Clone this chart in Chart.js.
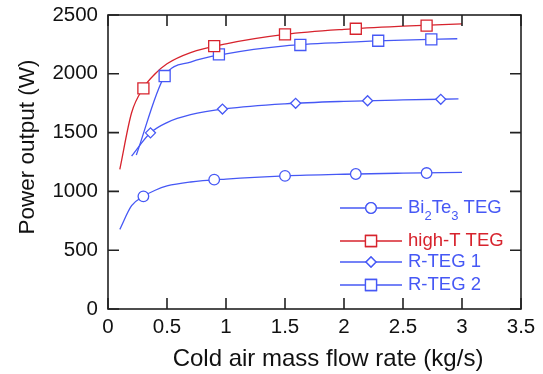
<!DOCTYPE html>
<html>
<head>
<meta charset="utf-8">
<script src="https://cdn.jsdelivr.net/npm/chart.js@4.4.1/dist/chart.umd.min.js"></script>
<style>
  body { margin: 0; background: #fff; }
  #wrap { width: 543px; height: 374px; }
</style>
</head>
<body>
<div id="wrap"><canvas id="grafico" width="543" height="374"></canvas></div>
<script>
// axis ticks
const xTicks = [0, 0.5, 1, 1.5, 2, 2.5, 3, 3.5];
const yTicks = [0, 500, 1000, 1500, 2000, 2500];

// Bi2Te3 TEG
const bteLinhaX = [0.1, 0.2, 0.3, 0.4, 0.5, 0.7, 1.0, 1.5, 2.0, 2.5, 3.0];
const bteLinhaY = [677, 878, 958, 1010, 1046, 1080, 1105, 1132, 1146, 1155, 1162];
const bteMarcaX = [0.3, 0.9, 1.5, 2.1, 2.7];
const bteMarcaY = [958, 1100, 1132, 1148, 1156];

// high-T TEG
const altaLinhaX = [0.1, 0.2, 0.3, 0.4, 0.5, 0.7, 1.0, 1.5, 2.0, 2.5, 3.0];
const altaLinhaY = [1188, 1669, 1880, 2000, 2085, 2180, 2255, 2335, 2378, 2405, 2425];
const altaMarcaX = [0.3, 0.9, 1.5, 2.1, 2.7];
const altaMarcaY = [1876, 2236, 2335, 2383, 2409];

// R-TEG 1
const r1LinhaX = [0.2, 0.36, 0.5, 0.7, 1.0, 1.5, 2.0, 2.5, 2.97];
const r1LinhaY = [1301, 1498, 1585, 1652, 1703, 1745, 1766, 1778, 1786];
const r1MarcaX = [0.36, 0.97, 1.59, 2.2, 2.82];
const r1MarcaY = [1498, 1700, 1749, 1771, 1783];

// R-TEG 2
const r2LinhaX = [0.24, 0.48, 0.7, 1.0, 1.5, 2.0, 2.5, 2.96];
const r2LinhaY = [1310, 1981, 2100, 2170, 2238, 2268, 2287, 2298];
const r2MarcaX = [0.48, 0.94, 1.63, 2.29, 2.74];
const r2MarcaY = [1981, 2165, 2245, 2281, 2293];

const AZUL = "rgb(70,88,245)";
const VERMELHO = "rgb(215,35,45)";
const FONTE = "'Liberation Sans', Arial, sans-serif";

function pontos(xs, ys) {
  return xs.map((x, i) => ({ x, y: ys[i] }));
}

function linha(xs, ys, cor) {
  return {
    data: pontos(xs, ys),
    borderColor: cor,
    borderWidth: 1.3,
    pointRadius: 0,
    cubicInterpolationMode: "monotone",
    showLine: true,
    fill: false
  };
}

function marcas(xs, ys, cor, estilo, raio) {
  return {
    data: pontos(xs, ys),
    borderColor: cor,
    backgroundColor: "#fff",
    borderWidth: 1.3,
    pointStyle: estilo,
    pointRadius: raio,
    showLine: false
  };
}

const legenda = [
  { texto: ["Bi", "2", "Te", "3", " TEG"], cor: AZUL, estilo: "circle", raio: 5.3, y: 208 },
  { texto: ["high-T TEG"], cor: VERMELHO, estilo: "rect", raio: 7.8, y: 241 },
  { texto: ["R-TEG 1"], cor: AZUL, estilo: "rectRot", raio: 5, y: 262 },
  { texto: ["R-TEG 2"], cor: AZUL, estilo: "rect", raio: 7.8, y: 285 }
];

const molduraPlugin = {
  id: "moldura",
  afterDraw(chart) {
    const ctx = chart.ctx;
    const a = chart.chartArea;
    const sx = chart.scales.x;
    const sy = chart.scales.y;
    const tam = 11;

    ctx.save();
    ctx.strokeStyle = "#222";
    ctx.lineWidth = 1.6;
    ctx.strokeRect(a.left, a.top, a.right - a.left, a.bottom - a.top);

    ctx.beginPath();
    xTicks.forEach(v => {
      const px = sx.getPixelForValue(v);
      ctx.moveTo(px, a.bottom);
      ctx.lineTo(px, a.bottom - tam);
      ctx.moveTo(px, a.top);
      ctx.lineTo(px, a.top + tam);
    });
    yTicks.forEach(v => {
      const py = sy.getPixelForValue(v);
      ctx.moveTo(a.left, py);
      ctx.lineTo(a.left + tam, py);
      ctx.moveTo(a.right, py);
      ctx.lineTo(a.right - tam, py);
    });
    ctx.stroke();

    // axis titles
    ctx.fillStyle = "#111";
    ctx.textAlign = "center";
    ctx.textBaseline = "middle";
    ctx.font = "24px " + FONTE;
    ctx.fillText("Cold air mass flow rate (kg/s)", 328, 359);

    ctx.save();
    ctx.translate(28, 147);
    ctx.rotate(-Math.PI / 2);
    ctx.font = "22.5px " + FONTE;
    ctx.fillText("Power output (W)", 0, 0);
    ctx.restore();

    // legend
    legenda.forEach(item => {
      ctx.strokeStyle = item.cor;
      ctx.lineWidth = 1.3;
      ctx.beginPath();
      ctx.moveTo(340, item.y);
      ctx.lineTo(402, item.y);
      ctx.stroke();

      ctx.fillStyle = "#fff";
      Chart.helpers.drawPoint(ctx, {
        pointStyle: item.estilo,
        radius: item.raio,
        borderWidth: 1.3
      }, 371, item.y);
      ctx.fill();
      ctx.stroke();

      ctx.fillStyle = item.cor;
      ctx.textAlign = "left";
      ctx.textBaseline = "middle";
      let x = 408;
      item.texto.forEach((parte, i) => {
        const sub = item.texto.length > 1 && i % 2 === 1 && i < 4;
        ctx.font = (sub ? "13px " : "18.5px ") + FONTE;
        ctx.fillText(parte, x, item.y + (sub ? 8 : 0));
        x += ctx.measureText(parte).width;
      });
    });
    ctx.restore();
  }
};

new Chart(document.getElementById("grafico"), {
  type: "scatter",
  data: {
    datasets: [
      marcas(bteMarcaX, bteMarcaY, AZUL, "circle", 5.3),
      marcas(altaMarcaX, altaMarcaY, VERMELHO, "rect", 7.8),
      marcas(r1MarcaX, r1MarcaY, AZUL, "rectRot", 5),
      marcas(r2MarcaX, r2MarcaY, AZUL, "rect", 7.8),
      linha(bteLinhaX, bteLinhaY, AZUL),
      linha(altaLinhaX, altaLinhaY, VERMELHO),
      linha(r1LinhaX, r1LinhaY, AZUL),
      linha(r2LinhaX, r2LinhaY, AZUL)
    ]
  },
  options: {
    responsive: false,
    animation: false,
    layout: { padding: { left: 0, top: 15, right: 22, bottom: 0 } },
    plugins: {
      legend: { display: false },
      tooltip: { enabled: false }
    },
    scales: {
      x: {
        type: "linear",
        min: 0,
        max: 3.5,
        afterFit: s => { s.height = 65; },
        afterBuildTicks: s => { s.ticks = xTicks.map(v => ({ value: v })); },
        grid: { display: false },
        border: { display: false },
        ticks: {
          autoSkip: false,
          maxRotation: 0,
          padding: -2,
          color: "#111",
          callback: v => String(v),
          font: { family: FONTE, size: 20.5 }
        }
      },
      y: {
        type: "linear",
        min: 0,
        max: 2500,
        afterFit: s => { s.width = 108; },
        afterBuildTicks: s => { s.ticks = yTicks.map(v => ({ value: v })); },
        grid: { display: false },
        border: { display: false },
        ticks: {
          padding: 2,
          color: "#111",
          callback: v => String(v),
          font: { family: FONTE, size: 20.5 }
        }
      }
    }
  },
  plugins: [molduraPlugin]
});
</script>
</body>
</html>
